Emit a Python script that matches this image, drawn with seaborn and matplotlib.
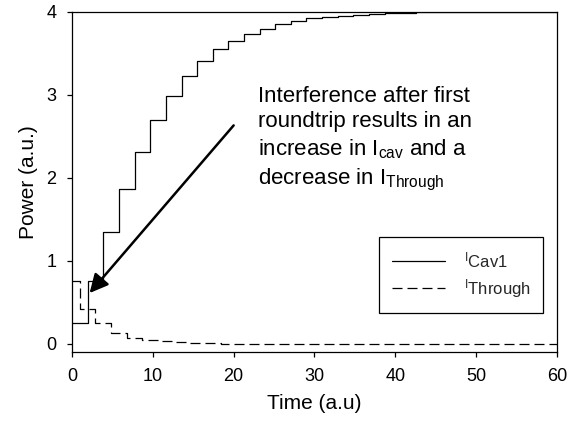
import matplotlib
matplotlib.use("Agg")
import matplotlib.pyplot as plt
import seaborn as sns
import pandas as pd

# Step times (a.u.) and power levels
cav_t = [0, 1.93, 3.88, 5.82, 7.80, 9.70, 11.65, 13.58, 15.44, 17.42, 19.30,
         21.27, 23.20, 25.10, 27.05, 29.00, 30.93, 32.87, 34.82, 36.75, 38.70,
         40.70, 42.60, 44.60, 60]
cav_p = [0.25, 0.75, 1.34, 1.86, 2.31, 2.70, 2.99, 3.22, 3.41, 3.55, 3.65,
         3.73, 3.79, 3.85, 3.89, 3.92, 3.94, 3.95, 3.96, 3.97, 3.98,
         3.99, 3.995, 4.0, 4.0]

through_t = [0, 1.0, 2.9, 4.8, 6.75, 8.7, 10.6, 12.6, 14.5, 16.5, 18.4, 60]
through_p = [0.75, 0.42, 0.25, 0.13, 0.07, 0.04, 0.027, 0.015, 0.01, 0.005, 0.0, 0.0]

x_ticks = [0, 10, 20, 30, 40, 50, 60]
y_ticks = [0, 1, 2, 3, 4]

sns.set_theme(style="ticks")
plt.rcParams["font.family"] = ["Liberation Sans", "DejaVu Sans"]
plt.rcParams["mathtext.fontset"] = "custom"
plt.rcParams["mathtext.rm"] = "Liberation Sans"
plt.rcParams["mathtext.it"] = "Liberation Sans:italic"

fig = plt.figure(figsize=(5.69, 4.25), dpi=100)
ax = fig.add_axes([0.1265, 0.1718, 0.8524, 0.8007])

df_cav = pd.DataFrame({"t": cav_t, "p": cav_p})
df_thr = pd.DataFrame({"t": through_t, "p": through_p})

sns.lineplot(data=df_cav, x="t", y="p", ax=ax, color="black", lw=0.9,
             drawstyle="steps-post", label=r"${}^{\mathrm{I}}$Cav1")
sns.lineplot(data=df_thr, x="t", y="p", ax=ax, color="black", lw=0.9,
             drawstyle="steps-post", label=r"${}^{\mathrm{I}}$Through")
ax.lines[1].set_dashes((8, 4))

ax.set_xlim(0, 60)
ax.set_ylim(-0.1, 4.0)
ax.set_xticks(x_ticks)
ax.set_yticks(y_ticks)
ax.tick_params(direction="out", length=3.8, width=0.9, labelsize=13,
               colors="black", pad=7.5)
for s in ax.spines.values():
    s.set_visible(True)
    s.set_color("black")
    s.set_linewidth(0.9)

ax.set_xlabel("Time (a.u)", fontsize=15, color="black", labelpad=7)
ax.set_ylabel("Power (a.u.)", fontsize=15, color="black", labelpad=6)

ax.annotate("", xy=(2.18, 0.61), xytext=(20.0, 2.63),
            arrowprops=dict(arrowstyle="-|>", color="black", lw=1.8,
                            mutation_scale=28, shrinkA=0, shrinkB=0))
ax.text(23.0, 3.11,
        "Interference after first\nroundtrip results in an\n"
        r"increase in I$_\mathrm{cav}$ and a" "\n"
        r"decrease in I$_\mathrm{Through}$",
        ha="left", va="top", fontsize=16, color="black", linespacing=1.3)

leg = ax.legend(loc="lower right", bbox_to_anchor=(0.972, 0.115),
                fontsize=12, frameon=True, fancybox=False, handlelength=3.2,
                handletextpad=1.1, borderpad=0.78, labelspacing=0.42,
                borderaxespad=0)
leg.get_frame().set_edgecolor("black")
leg.get_frame().set_linewidth(0.9)
leg.get_frame().set_alpha(1)

fig.savefig("out.png", dpi=100)
